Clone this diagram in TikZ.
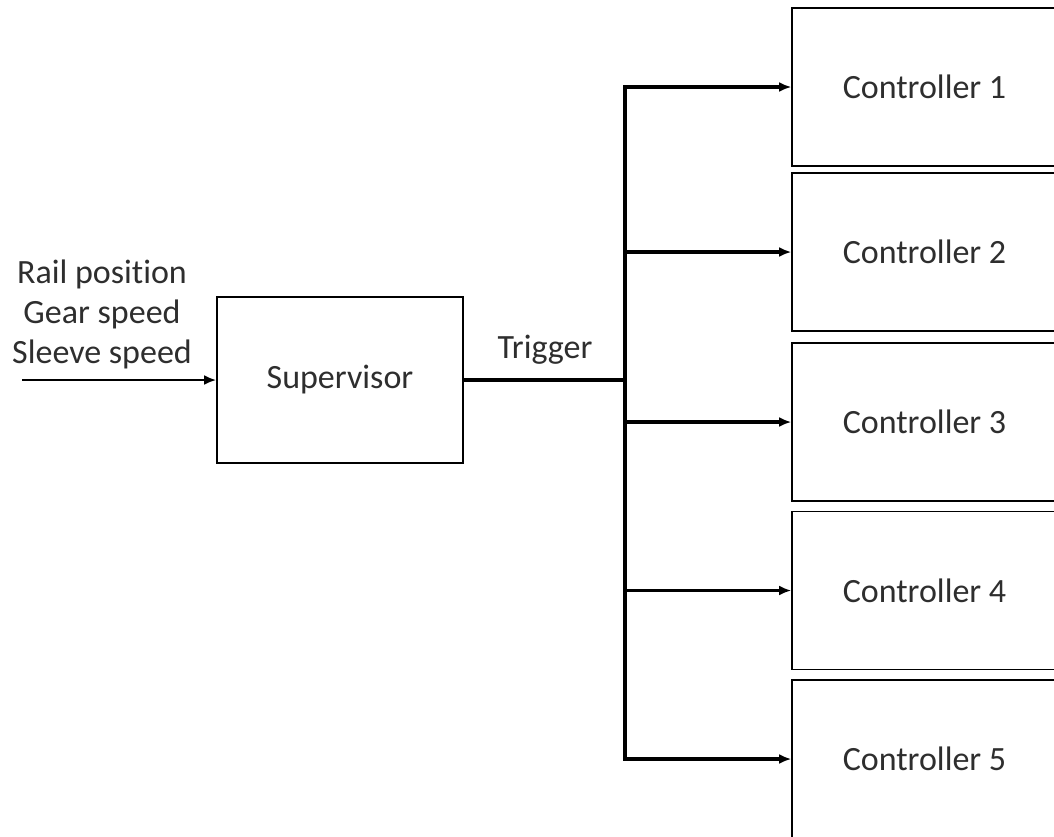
\documentclass[tikz,border=0pt]{standalone}
\usepackage{fontspec}
\setmainfont[Ligatures=NoCommon]{Carlito}
\usetikzlibrary{arrows.meta}
\usetikzlibrary{positioning}

\tikzset{
  block/.style={draw, line width=1.6pt, text=black!82, inner sep=0pt},
  ctrl/.style={block, minimum width=265pt, minimum height=158pt},
  signal/.style={line width=2.8pt, -{Latex[length=12pt,width=10pt]}},
  lbl/.style={text=black!82, inner sep=0pt, align=center, font=\fontsize{34}{40}\selectfont},
}

\begin{document}
\begin{tikzpicture}[x=1pt, y=-1pt, font=\fontsize{34}{40}\selectfont]
    \useasboundingbox (0,0) rectangle (1054,836);
    % supervisor and inputs
    \node[block, minimum width=246pt, minimum height=166pt] (sup) at (340,380) {Supervisor};
    \coordinate (inp) at (22,380);
    \draw[signal] (inp) -- (sup.west);
    \node[lbl] (inputs) at (102,314) {Rail position\\Gear speed\\Sleeve speed};
    % trigger bus
    \coordinate (bus) at (625,380);
    \draw[line width=4.5pt] (sup.east) -- (bus);
    \node[lbl] (trig) at (545,350) {Trigger};
    % controllers
    \node[ctrl] (c1) at (924.5,87) {Controller 1};
    \node[ctrl] (c2) at (924.5,252) {Controller 2};
    \node[ctrl] (c3) at (924.5,422) {Controller 3};
    \node[ctrl] (c4) at (924.5,590.5) {Controller 4};
    \node[ctrl] (c5) at (924.5,759) {Controller 5};
    \foreach \c in {c1,c2,c3,c4,c5}
        \draw[signal, line width=3.2pt] (bus) |- (\c.west);
\end{tikzpicture}
\end{document}
